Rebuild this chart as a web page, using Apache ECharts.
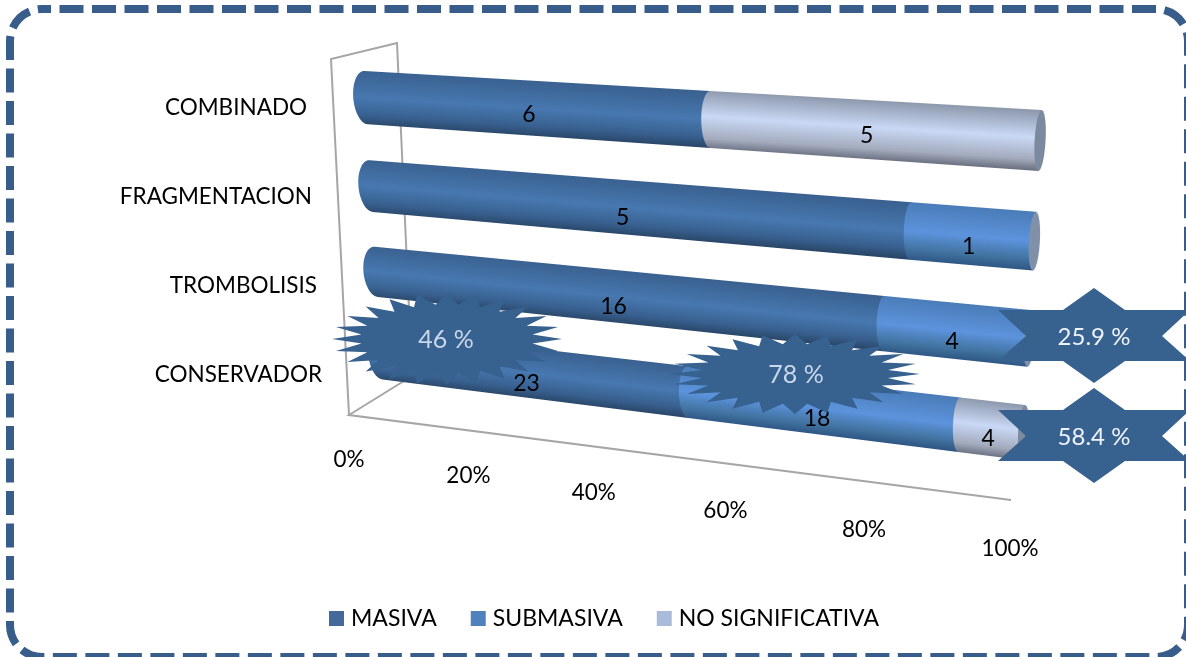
<!DOCTYPE html>
<html>
<head>
<meta charset="utf-8">
<style>html,body{margin:0;padding:0;background:#fff;overflow:hidden}#c{width:1186px;height:657px}</style>
<script src="https://cdn.jsdelivr.net/npm/echarts@6/dist/echarts.min.js"></script>
</head>
<body>
<div id="c"></div>
<script>
// Cases per treatment, bottom row first
const categories = ['CONSERVADOR', 'TROMBOLISIS', 'FRAGMENTACION', 'COMBINADO'];
const masiva = [23, 16, 5, 6];
const submasiva = [18, 4, 1, 0];
const noSignificativa = [4, 0, 0, 5];
const percentTicks = [0, 20, 40, 60, 80, 100];

const FONT = 'Lato, "Open Sans", sans-serif';
const BAR_RATIO = 0.594;

// Unit square to quadrilateral projection: the plane holding the cylinders
function makeProjection(p0, p1, p2, p3) {
  const dx1 = p1[0] - p2[0], dx2 = p3[0] - p2[0], sx = p0[0] - p1[0] + p2[0] - p3[0];
  const dy1 = p1[1] - p2[1], dy2 = p3[1] - p2[1], sy = p0[1] - p1[1] + p2[1] - p3[1];
  const den = dx1 * dy2 - dx2 * dy1;
  const g = (sx * dy2 - dx2 * sy) / den, h = (dx1 * sy - sx * dy1) / den;
  const a = p1[0] - p0[0] + g * p1[0], b = p3[0] - p0[0] + h * p3[0], c = p0[0];
  const d = p1[1] - p0[1] + g * p1[1], e = p3[1] - p0[1] + h * p3[1], f = p0[1];
  return (u, v) => {
    const w = g * u + h * v + 1;
    return [(a * u + b * v + c) / w, (d * u + e * v + f) / w];
  };
}
const project = makeProjection([363.5, 52.5], [1043, 89], [1021, 478.5], [383.5, 396]);
// Same foreshortening along the value direction, used for the floor tick labels
const depth = u => u / (u + (1 - u) * 1.134);

function normalised(params, api, value, cat) {
  const r = params.coordSys;
  const p = api.coord([value, cat]);
  return [(p[0] - r.x) / r.width, (p[1] - r.y) / r.height];
}

function stops(list) {
  return list.map(s => ({ offset: s[0], color: s[1] }));
}
const shades = {
  MASIVA: stops([[0, '#3a6190'], [0.5, '#4778b0'], [0.82, '#38608f'], [1, '#2a4769']]),
  SUBMASIVA: stops([[0, '#4a7cb8'], [0.5, '#5c93dc'], [0.82, '#41729f'], [1, '#2e5684']]),
  'NO SIGNIFICATIVA': stops([[0, '#8e99ad'], [0.45, '#c9d8f5'], [0.82, '#a3abbd'], [1, '#6c7282']])
};
const capColor = { MASIVA: '#6d84a5', SUBMASIVA: '#7f90a8', 'NO SIGNIFICATIVA': '#7c8a9f' };

// Half ellipse between two rim points, bulging along dir
function rim(top, bot, dir, rx, from, to) {
  const cx = (top[0] + bot[0]) / 2, cy = (top[1] + bot[1]) / 2;
  const ax = (top[0] - bot[0]) / 2, ay = (top[1] - bot[1]) / 2;
  const pts = [];
  for (let i = 0; i <= 24; i++) {
    const t = from + (to - from) * i / 24;
    pts.push([cx + ax * Math.cos(t) + dir[0] * rx * Math.sin(t), cy + ay * Math.cos(t) + dir[1] * rx * Math.sin(t)]);
  }
  return pts;
}

function cylinderSeries(name, color, values, before) {
  const data = categories.map((c, i) => {
    const total = masiva[i] + submasiva[i] + noSignificativa[i];
    const start = before.reduce((s, arr) => s + arr[i], 0);
    return [start / total * 100, (start + values[i]) / total * 100, i, values[i]];
  }).filter(d => d[3] > 0);
  return {
    name, type: 'custom', coordinateSystem: 'cartesian2d', itemStyle: { color }, clip: false, z: 3,
    data,
    renderItem(params, api) {
      const v0 = api.value(0), v1 = api.value(1), cat = api.value(2), count = api.value(3);
      const a = normalised(params, api, v0, cat), b = normalised(params, api, v1, cat);
      const half = api.size([0, 1])[1] * BAR_RATIO / 2 / params.coordSys.height;
      const w = a[1];
      const tl = project(a[0], w - half), tr = project(b[0], w - half);
      const bl = project(a[0], w + half), br = project(b[0], w + half);
      const ca = project(a[0], w), cb = project(b[0], w);
      const len = Math.hypot(cb[0] - ca[0], cb[1] - ca[1]);
      const d = [(cb[0] - ca[0]) / len, (cb[1] - ca[1]) / len];
      const mid = project((a[0] + b[0]) / 2, w);
      const th = (Math.hypot(tl[0] - bl[0], tl[1] - bl[1]) + Math.hypot(tr[0] - br[0], tr[1] - br[1])) / 4;
      const rxAt = u => 5.5 + 7.5 * (1 - depth(u));
      const left = rim(tl, bl, [-d[0], -d[1]], rxAt(a[0]), 0, Math.PI);
      const points = [tr].concat([br]).concat(left.slice().reverse());
      const children = [{
        type: 'polygon',
        shape: { points },
        style: {
          fill: {
            type: 'linear', global: true,
            x: mid[0] + d[1] * th, y: mid[1] - d[0] * th,
            x2: mid[0] - d[1] * th, y2: mid[1] + d[0] * th,
            colorStops: shades[name]
          }
        }
      }];
      if (v1 >= 99.999) {
        const endRim = rim(tr, br, d, rxAt(1), 0, 2 * Math.PI);
        children.push({ type: 'polygon', shape: { points: endRim }, style: { fill: capColor[name] } });
      }
      const labelAt = project((a[0] + b[0]) / 2, w);
      const drop = cat === categories.length - 1 ? 6 : 10;
      children.push({
        type: 'text', x: labelAt[0] - 3, y: labelAt[1] + drop,
        style: { text: String(count), font: '23px ' + FONT, fill: '#000', textAlign: 'center', textVerticalAlign: 'middle' }
      });
      return { type: 'group', children };
    }
  };
}

// Percent labels laid along the floor edge
const tickSeries = {
  type: 'custom', coordinateSystem: 'cartesian2d', clip: false, z: 3, silent: true,
  data: percentTicks.map(v => [v, 0]),
  renderItem(params, api) {
    const value = api.value(0);
    const u = normalised(params, api, value, 0)[0];
    const t = depth(u);
    return {
      type: 'text', x: 349 + 661 * t, y: 460 + 89 * t,
      style: { text: value + '%', font: '22.5px ' + FONT, fill: '#000', textAlign: 'center', textVerticalAlign: 'middle' }
    };
  }
};

// Treatment names to the left of the cylinders
const categorySeries = {
  type: 'custom', coordinateSystem: 'cartesian2d', clip: false, z: 3, silent: true,
  data: categories.map((c, i) => [0, i]),
  renderItem(params, api) {
    const i = api.value(1);
    const w = normalised(params, api, 0, i)[1];
    const s = (w - 0.125) / 0.75;
    return {
      type: 'text', x: 307 + 15 * s, y: 108 + 266.4 * s,
      style: { text: categories[i], font: '22.5px ' + FONT, fill: '#000', textAlign: 'right', textVerticalAlign: 'middle' }
    };
  }
};

// Burst callouts
function burst(cx, cy, rx, ry, tips, inner) {
  const pts = [];
  for (let i = 0; i < tips * 2; i++) {
    const a = -Math.PI / 2 + i * Math.PI / tips;
    const k = i % 2 ? inner : 1;
    pts.push([cx + rx * k * Math.cos(a), cy + ry * k * Math.sin(a)]);
  }
  return pts;
}
function hexCallout(cx, cy) {
  return [[0, -48], [31, -26], [96, -26], [68, 0], [96, 25], [31, 25], [0, 47], [-31, 25], [-96, 25], [-68, 0], [-96, -26], [-31, -26]]
    .map(p => [cx + p[0], cy + p[1]]);
}
const CALLOUT = '#37618f';
function calloutText(text, x, y, fill, size) {
  return {
    type: 'text', z: 11, x, y, silent: true,
    style: { text, font: size + 'px ' + FONT, fill, textAlign: 'center', textVerticalAlign: 'middle' }
  };
}
const LINE = '#a6a6a6';

const chart = echarts.init(document.getElementById('c'), null, { renderer: 'canvas' });
chart.setOption({
  animation: false,
  backgroundColor: '#fff',
  grid: { left: 363, top: 52, width: 660, height: 400, show: false },
  xAxis: { type: 'value', min: 0, max: 100, interval: 20, show: false },
  yAxis: { type: 'category', data: categories, show: false },
  legend: {
    data: ['MASIVA', 'SUBMASIVA', 'NO SIGNIFICATIVA'],
    left: 324, top: 602, icon: 'rect', itemWidth: 15, itemHeight: 15, itemGap: 34,
    textStyle: { fontFamily: FONT, fontSize: 23, color: '#000', padding: [0, 0, 0, 2] },
    selectedMode: false
  },
  series: [
    cylinderSeries('MASIVA', '#44699b', masiva, []),
    cylinderSeries('SUBMASIVA', '#4f81bd', submasiva, [masiva]),
    cylinderSeries('NO SIGNIFICATIVA', '#aabbd9', noSignificativa, [masiva, submasiva]),
    tickSeries,
    categorySeries
  ],
  graphic: { elements: [
    { type: 'polyline', z: 1, silent: true, shape: { points: [[349, 415], [331, 59], [397, 43], [412, 376], [349, 415], [1011, 500]] }, style: { stroke: LINE, lineWidth: 2, fill: null } },
    { type: 'rect', z: 9, silent: true, shape: { x: 10, y: 9, width: 1178, height: 648, r: 32 }, style: { fill: null, stroke: '#385d8a', lineWidth: 8, lineDash: [24, 8.5], lineDashOffset: 15 } },
    { type: 'polygon', z: 10, silent: true, shape: { points: burst(447, 339, 115, 46, 24, 0.75) }, style: { fill: CALLOUT } },
    calloutText('46 %', 446, 340, '#c9d7ea', 25),
    { type: 'polygon', z: 10, silent: true, shape: { points: burst(795, 374, 125, 40, 24, 0.75) }, style: { fill: CALLOUT } },
    calloutText('78 %', 796, 375, '#c9d7ea', 25),
    { type: 'polygon', z: 10, silent: true, shape: { points: hexCallout(1094, 336) }, style: { fill: CALLOUT } },
    calloutText('25.9 %', 1094, 337, '#eef3f9', 24),
    { type: 'polygon', z: 10, silent: true, shape: { points: hexCallout(1094, 436) }, style: { fill: CALLOUT } },
    calloutText('58.4 %', 1094, 437, '#eef3f9', 24)
  ] }
});
</script>
</body>
</html>
